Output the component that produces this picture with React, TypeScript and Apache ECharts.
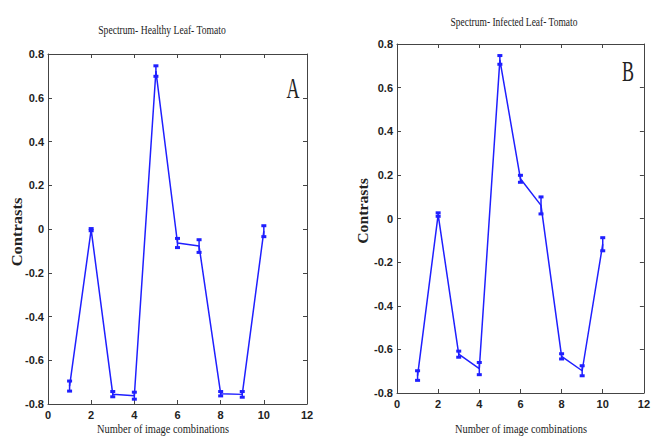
import React, { useEffect, useRef } from "react";
import * as echarts from "echarts";

const xValues = [1, 2, 3, 4, 5, 6, 7, 8, 9, 10];
const healthyMean = [-0.718, -0.003, -0.755, -0.762, 0.722, -0.064, -0.078, -0.753, -0.756, -0.01];
const healthyErr = [0.023, 0.005, 0.012, 0.016, 0.024, 0.021, 0.029, 0.01, 0.013, 0.025];
const infectedMean = [-0.72, 0.018, -0.622, -0.688, 0.727, 0.182, 0.06, -0.632, -0.698, -0.118];
const infectedErr = [0.022, 0.008, 0.014, 0.028, 0.02, 0.016, 0.039, 0.012, 0.023, 0.03];
const xTicks = [0, 2, 4, 6, 8, 10, 12];
const yTicks = [-0.8, -0.6, -0.4, -0.2, 0, 0.2, 0.4, 0.6, 0.8];

const titleA = "Spectrum- Healthy Leaf- Tomato";
const titleB = "Spectrum- Infected Leaf- Tomato";
const xName = "Number of image combinations";
const yName = "Contrasts";

const BLUE = "#1f1fff";
const AXIS = "#444";
const tickFont = { fontFamily: "'Liberation Sans Narrow', 'Liberation Sans', Arial, sans-serif", fontWeight: "bold" as const, fontSize: 11, color: "#222" };

export default function App() {
  const ref = useRef<HTMLDivElement>(null);
  useEffect(() => {
    if (!ref.current) return;
    const chart = echarts.init(ref.current, undefined, { renderer: "svg" });
    const fmt = (v: number) => {
      const r = Math.round(v * 10) / 10;
      return r === 0 ? "0" : String(r);
    };
    const grids = [
      { left: 48, top: 54, width: 259, height: 350 },
      { left: 397, top: 44, width: 254, height: 349 },
    ];
    const xAxis: any[] = [];
    const yAxis: any[] = [];
    const line = { show: true, onZero: false, lineStyle: { color: AXIS } };
    const tick = { show: true, inside: true, length: 4, lineStyle: { color: AXIS } };
    grids.forEach((_, gi) => {
      xAxis.push({
        type: "value", gridIndex: gi, min: 0, max: 12, interval: 2, position: "bottom",
        axisLine: line, axisTick: tick,
        axisLabel: { ...tickFont, margin: 5, formatter: (v: number) => String(v) },
        splitLine: { show: false },
      });
      xAxis.push({
        type: "value", gridIndex: gi, min: 0, max: 12, interval: 2, position: "top",
        axisLine: line, axisTick: tick,
        axisLabel: { show: false }, splitLine: { show: false },
      });
      yAxis.push({
        type: "value", gridIndex: gi, min: -0.8, max: 0.8, interval: 0.2, position: "left",
        axisLine: line, axisTick: tick,
        axisLabel: { ...tickFont, margin: 4, formatter: fmt },
        splitLine: { show: false },
      });
      yAxis.push({
        type: "value", gridIndex: gi, min: -0.8, max: 0.8, interval: 0.2, position: "right",
        axisLine: line, axisTick: tick,
        axisLabel: { show: false }, splitLine: { show: false },
      });
    });

    const errRender = (params: any, api: any) => {
      const x = api.value(0);
      const lo = api.coord([x, api.value(1)]);
      const hi = api.coord([x, api.value(2)]);
      const w = 2.5;
      return {
        type: "group",
        children: [
          { type: "line", shape: { x1: lo[0], y1: lo[1], x2: hi[0], y2: hi[1] }, style: { stroke: BLUE, lineWidth: 1.5 } },
          { type: "rect", shape: { x: hi[0] - w, y: hi[1] - 1.5, width: 2 * w, height: 3 }, style: { fill: BLUE } },
          { type: "rect", shape: { x: lo[0] - w, y: lo[1] - 1.5, width: 2 * w, height: 3 }, style: { fill: BLUE } },
        ],
      };
    };

    const makeSeries = (means: number[], errs: number[], gi: number) => [
      {
        type: "line", xAxisIndex: gi * 2, yAxisIndex: gi * 2,
        data: xValues.map((x, i) => [x, means[i]]),
        symbol: "none", lineStyle: { color: BLUE, width: 1.5 },
      },
      {
        type: "custom", xAxisIndex: gi * 2, yAxisIndex: gi * 2,
        data: xValues.map((x, i) => [x, means[i] - errs[i], means[i] + errs[i]]),
        encode: { x: 0, y: [1, 2] },
        renderItem: errRender,
      },
    ];

    const serif = "'Liberation Serif', 'Times New Roman', serif";
    const txt = (text: string, x: number, y: number, size: number, scaleX: number, extra: any = {}) => ({
      type: "text", x, y, scaleX, ...extra,
      style: { text, font: `${extra.bold ? "bold " : ""}${size}px ${serif}`, fill: "#222", textAlign: "center", textVerticalAlign: "middle" },
    });

    chart.setOption({
      animation: false,
      backgroundColor: "#fff",
      grid: grids.map((g) => ({ ...g, containLabel: false })),
      xAxis,
      yAxis,
      series: [...makeSeries(healthyMean, healthyErr, 0), ...makeSeries(infectedMean, infectedErr, 1)],
      graphic: [
        txt(titleA, 162, 29, 13, 0.74),
        txt(titleB, 514, 21, 13, 0.73),
        txt(xName, 163, 429, 13, 0.8),
        txt(xName, 521, 429, 13, 0.8),
        { ...txt(yName, 17, 232, 15, 1.1, { bold: true }), rotation: Math.PI / 2 },
        { ...txt(yName, 363, 211, 15, 1.05, { bold: true }), rotation: Math.PI / 2 },
        txt("A", 293, 88, 30, 0.6),
        txt("B", 628, 71, 30, 0.6),
      ],
    });
    return () => chart.dispose();
  }, []);
  return <div ref={ref} style={{ position: "fixed", left: 0, top: 0, width: 653, height: 437 }} />;
}
